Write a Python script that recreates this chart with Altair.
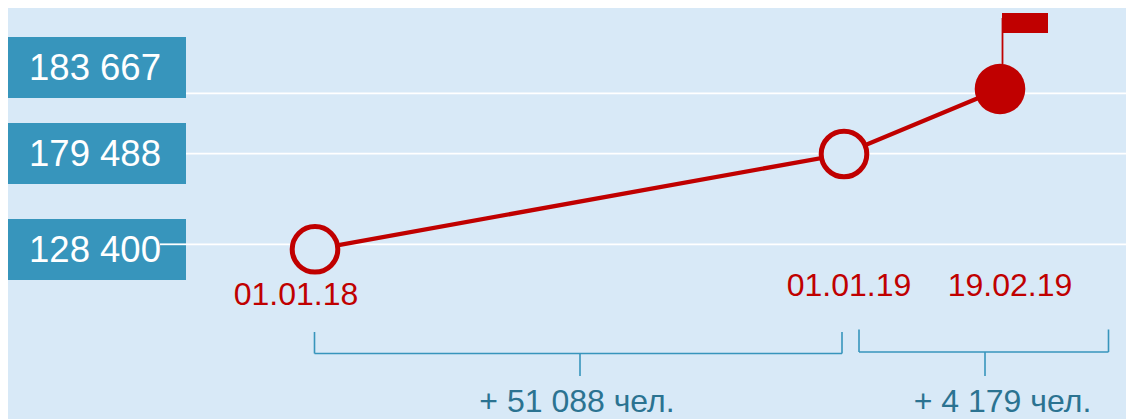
import altair as alt
import pandas as pd

# --- data ---
dates = ["2018-01-01", "2019-01-01", "2019-02-19"]
date_labels = ["01.01.18", "01.01.19", "19.02.19"]
values = [128400, 179488, 183667]
value_labels = ["128 400", "179 488", "183 667"]
growth_labels = ["+ 51 088 чел.", "+ 4 179 чел."]

parsed = pd.to_datetime(dates)
days = [int((d - parsed[0]).days) for d in parsed]
df = pd.DataFrame({"day": days, "label": date_labels, "value": values, "vlabel": value_labels})

BG = "#D8E9F7"
RED = "#C00000"
BLUE = "#3795BC"
TEAL = "#2B7391"
FONT = "Liberation Sans"

# the page margin moves everything by 8px
def px(v):
    return v - 8

def rng(items):
    return [px(v) for v in items]

# the source picture is a schematic: its axes are not to scale, so the scales are piecewise
x_scale = alt.Scale(domain=days, range=rng([315, 844, 1000]), zero=False, nice=False)
y_marker = alt.Scale(domain=values, range=rng([249.3, 154, 89]), zero=False, nice=False)
y_grid = alt.Scale(domain=values, range=rng([244.3, 153.7, 93.3]), zero=False, nice=False)
y_box = alt.Scale(domain=values, range=rng([249.5, 153.5, 67.5]), zero=False, nice=False)

X = alt.X("day:Q", scale=x_scale, axis=None)
base = alt.Chart(df)

grid = base.mark_rule(color="white", strokeWidth=1.8).encode(
    y=alt.Y("value:Q", scale=y_grid, axis=None), x=alt.value(px(186)), x2=alt.value(px(1134)))
boxes = base.mark_rect(color=BLUE, height=61).encode(
    y=alt.Y("value:Q", scale=y_box, axis=None), x=alt.value(0), x2=alt.value(px(186)))
box_text = base.mark_text(color="white", font=FONT, fontSize=36.5, align="center", baseline="middle", dy=1.5, dx=-0.5).encode(
    y=alt.Y("value:Q", scale=y_box, axis=None), x=alt.value(px(95.5)), text="vlabel:N")
grid_over = base.transform_filter(alt.datum.value == 128400).mark_rule(color="white", strokeWidth=1.8).encode(
    y=alt.Y("value:Q", scale=y_grid, axis=None), x=alt.value(px(160)), x2=alt.value(px(186)))

line = base.mark_line(color=RED, strokeWidth=4.3).encode(
    x=X, y=alt.Y("value:Q", scale=y_marker, axis=None))
open_pts = base.transform_filter(alt.datum.value < 183667).mark_point(
    shape="circle", filled=False, fill=BG, fillOpacity=1, opacity=1, color=RED, strokeWidth=5, size=2079
).encode(x=X, y=alt.Y("value:Q", scale=y_marker, axis=None))
last_pt = base.transform_filter(alt.datum.value == 183667).mark_point(
    shape="circle", filled=True, opacity=1, color=RED, size=2560
).encode(x=X, y=alt.Y("value:Q", scale=y_marker, axis=None))

layers = [grid, boxes, box_text, grid_over, line, open_pts, last_pt]

# date captions
for i, (dx, yb) in enumerate([(-19, 305), (5, 296), (10, 296)]):
    layers.append(
        alt.Chart(df.iloc[[i]]).mark_text(color=RED, font=FONT, fontSize=32, align="center",
                                          baseline="alphabetic", dx=dx).encode(
            x=X, y=alt.value(px(yb)), text="label:N"))

def rule(x1, y1, x2, y2, color=BLUE, w=1.6):
    return alt.Chart(df.iloc[[0]]).mark_rule(color=color, strokeWidth=w).encode(
        x=alt.value(px(x1)), x2=alt.value(px(x2)), y=alt.value(px(y1)), y2=alt.value(px(y2)))

# brackets
layers += [
    rule(314.5, 332, 314.5, 353.5), rule(314.5, 353.5, 842, 353.5), rule(842, 332, 842, 353.5),
    rule(580, 353.5, 580, 376),
    rule(859, 329.5, 859, 352), rule(859, 352, 1108.5, 352), rule(1108.5, 329.5, 1108.5, 352),
    rule(985, 352, 985, 376),
]

# flag
layers.append(rule(1002.5, 18, 1002.5, 64, RED, 1.8))
layers.append(alt.Chart(df.iloc[[0]]).mark_rect(color=RED).encode(
    x=alt.value(px(1002)), x2=alt.value(px(1048)), y=alt.value(px(13)), y2=alt.value(px(33))))

# growth captions
for text, cx in zip(growth_labels, [577, 1002.5]):
    layers.append(alt.Chart(df.iloc[[0]]).mark_text(
        color=TEAL, font=FONT, fontSize=32, align="center", baseline="alphabetic", text=text
    ).encode(x=alt.value(px(cx)), y=alt.value(px(412))))

chart = alt.layer(*layers).resolve_scale(y="independent").properties(
    width=1118, height=411, background=BG, padding=0,
    autosize=alt.AutoSizeParams(type="none"),
).configure_view(stroke=None)

chart.save("out.html", embed_options={"renderer": "svg", "actions": False})
